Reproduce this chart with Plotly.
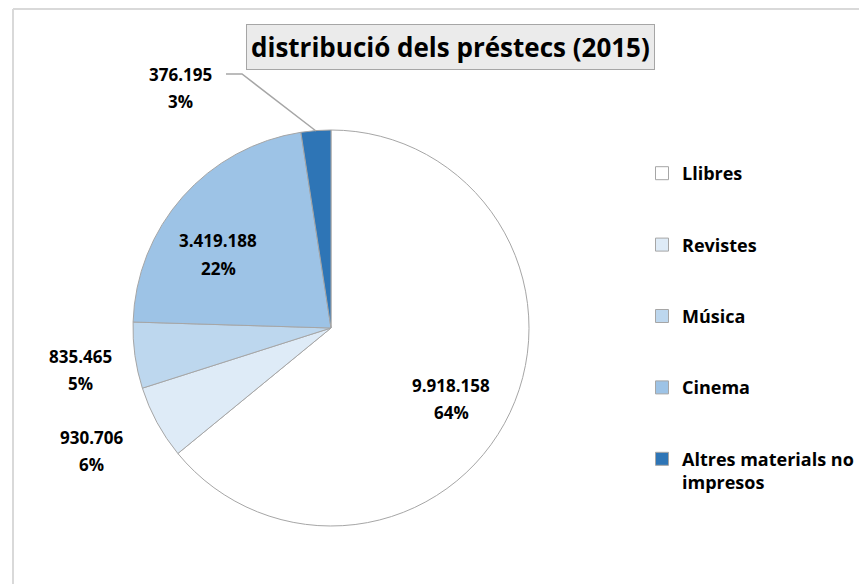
import plotly.graph_objects as go

# reference picture size; the page body adds an 8px offset, so the figure is
# a little smaller and every pixel position is shifted by OFF
W, H = 867, 584
OFF = 8
FW, FH = W - OFF, H - OFF

categories = ["Llibres", "Revistes", "Música", "Cinema", "Altres materials no impresos"]
legend_names = ["Llibres", "Revistes", "Música", "Cinema", "Altres materials no<br>impresos"]
values = [9918158, 930706, 835465, 3419188, 376195]
value_labels = ["9.918.158", "930.706", "835.465", "3.419.188", "376.195"]
pct_labels = ["64%", "6%", "5%", "22%", "3%"]
colors = ["#FFFFFF", "#DEEBF7", "#BDD7EE", "#9DC3E6", "#2E75B6"]

FONT = "Open Sans"


def px(x, y):
    return (x - OFF) / FW, 1 - (y - OFF) / FH


fig = go.Figure()
x_lo, y_hi = px(133, 130)
x_hi, y_lo = px(529, 526)
fig.add_trace(go.Pie(
    labels=categories, values=values, textinfo="none",
    marker=dict(colors=colors, line=dict(color="#A6A6A6", width=1)),
    sort=False, direction="clockwise", rotation=0, showlegend=False,
    domain=dict(x=[x_lo, x_hi], y=[y_lo, y_hi]),
    hoverinfo="label+value+percent",
))

# legend entries (separate groups so the gap between them can be set)
for name, c in zip(legend_names, colors):
    fig.add_trace(go.Scatter(
        x=[None], y=[None], mode="markers", name=name, legendgroup=name,
        marker=dict(symbol="square", size=13, color=c, line=dict(color="#A6A6A6", width=1)),
    ))

ann = []
# data labels: (centre x, y of first line)
label_pos = [(451, 385), (91, 437), (80, 356), (218, 241), (180, 74)]
for i, (x, y) in enumerate(label_pos):
    for j, t in enumerate([value_labels[i], pct_labels[i]]):
        ax, ay = px(x, y + 27 * j)
        ann.append(dict(x=ax, y=ay, xref="paper", yref="paper", showarrow=False,
                        xanchor="center", yanchor="middle", text=t,
                        font=dict(family=FONT, size=17, color="#000000", weight="bold")))
# title box
tx, ty = px(450, 47)
ann.append(dict(x=tx, y=ty, xref="paper", yref="paper", showarrow=False,
                xanchor="center", yanchor="middle",
                text="distribució dels préstecs (2015)",
                font=dict(family=FONT, size=26, color="#000000", weight="bold"),
                bgcolor="#EBEBEB", bordercolor="#A6A6A6", borderwidth=1, borderpad=4))

shapes = []
# chart border (top and left edges visible)
x0, y0 = px(13, 9)
shapes.append(dict(type="line", xref="paper", yref="paper", x0=x0, y0=y0, x1=1.02, y1=y0,
                   line=dict(color="#D9D9D9", width=2)))
shapes.append(dict(type="line", xref="paper", yref="paper", x0=x0, y0=y0, x1=x0, y1=-0.02,
                   line=dict(color="#D9D9D9", width=2)))
# leader line for the small slice
p1, p2, p3 = px(226, 74), px(242, 74), px(316, 131)
shapes.append(dict(type="path", xref="paper", yref="paper",
                   path=f"M {p1[0]} {p1[1]} L {p2[0]} {p2[1]} L {p3[0]} {p3[1]}",
                   line=dict(color="#A6A6A6", width=1.5)))

lx, ly = px(642, 155)
fig.update_layout(
    width=FW, height=FH,
    margin=dict(l=0, r=0, t=0, b=0),
    paper_bgcolor="#FFFFFF", plot_bgcolor="#FFFFFF",
    font=dict(family=FONT, color="#000000"),
    xaxis=dict(visible=False), yaxis=dict(visible=False),
    legend=dict(x=lx, y=ly, xanchor="left", yanchor="top", tracegroupgap=45,
                valign="top", itemclick=False,
                font=dict(family=FONT, size=18, color="#000000", weight="bold")),
    annotations=ann, shapes=shapes,
)

fig.write_html("out.html")
